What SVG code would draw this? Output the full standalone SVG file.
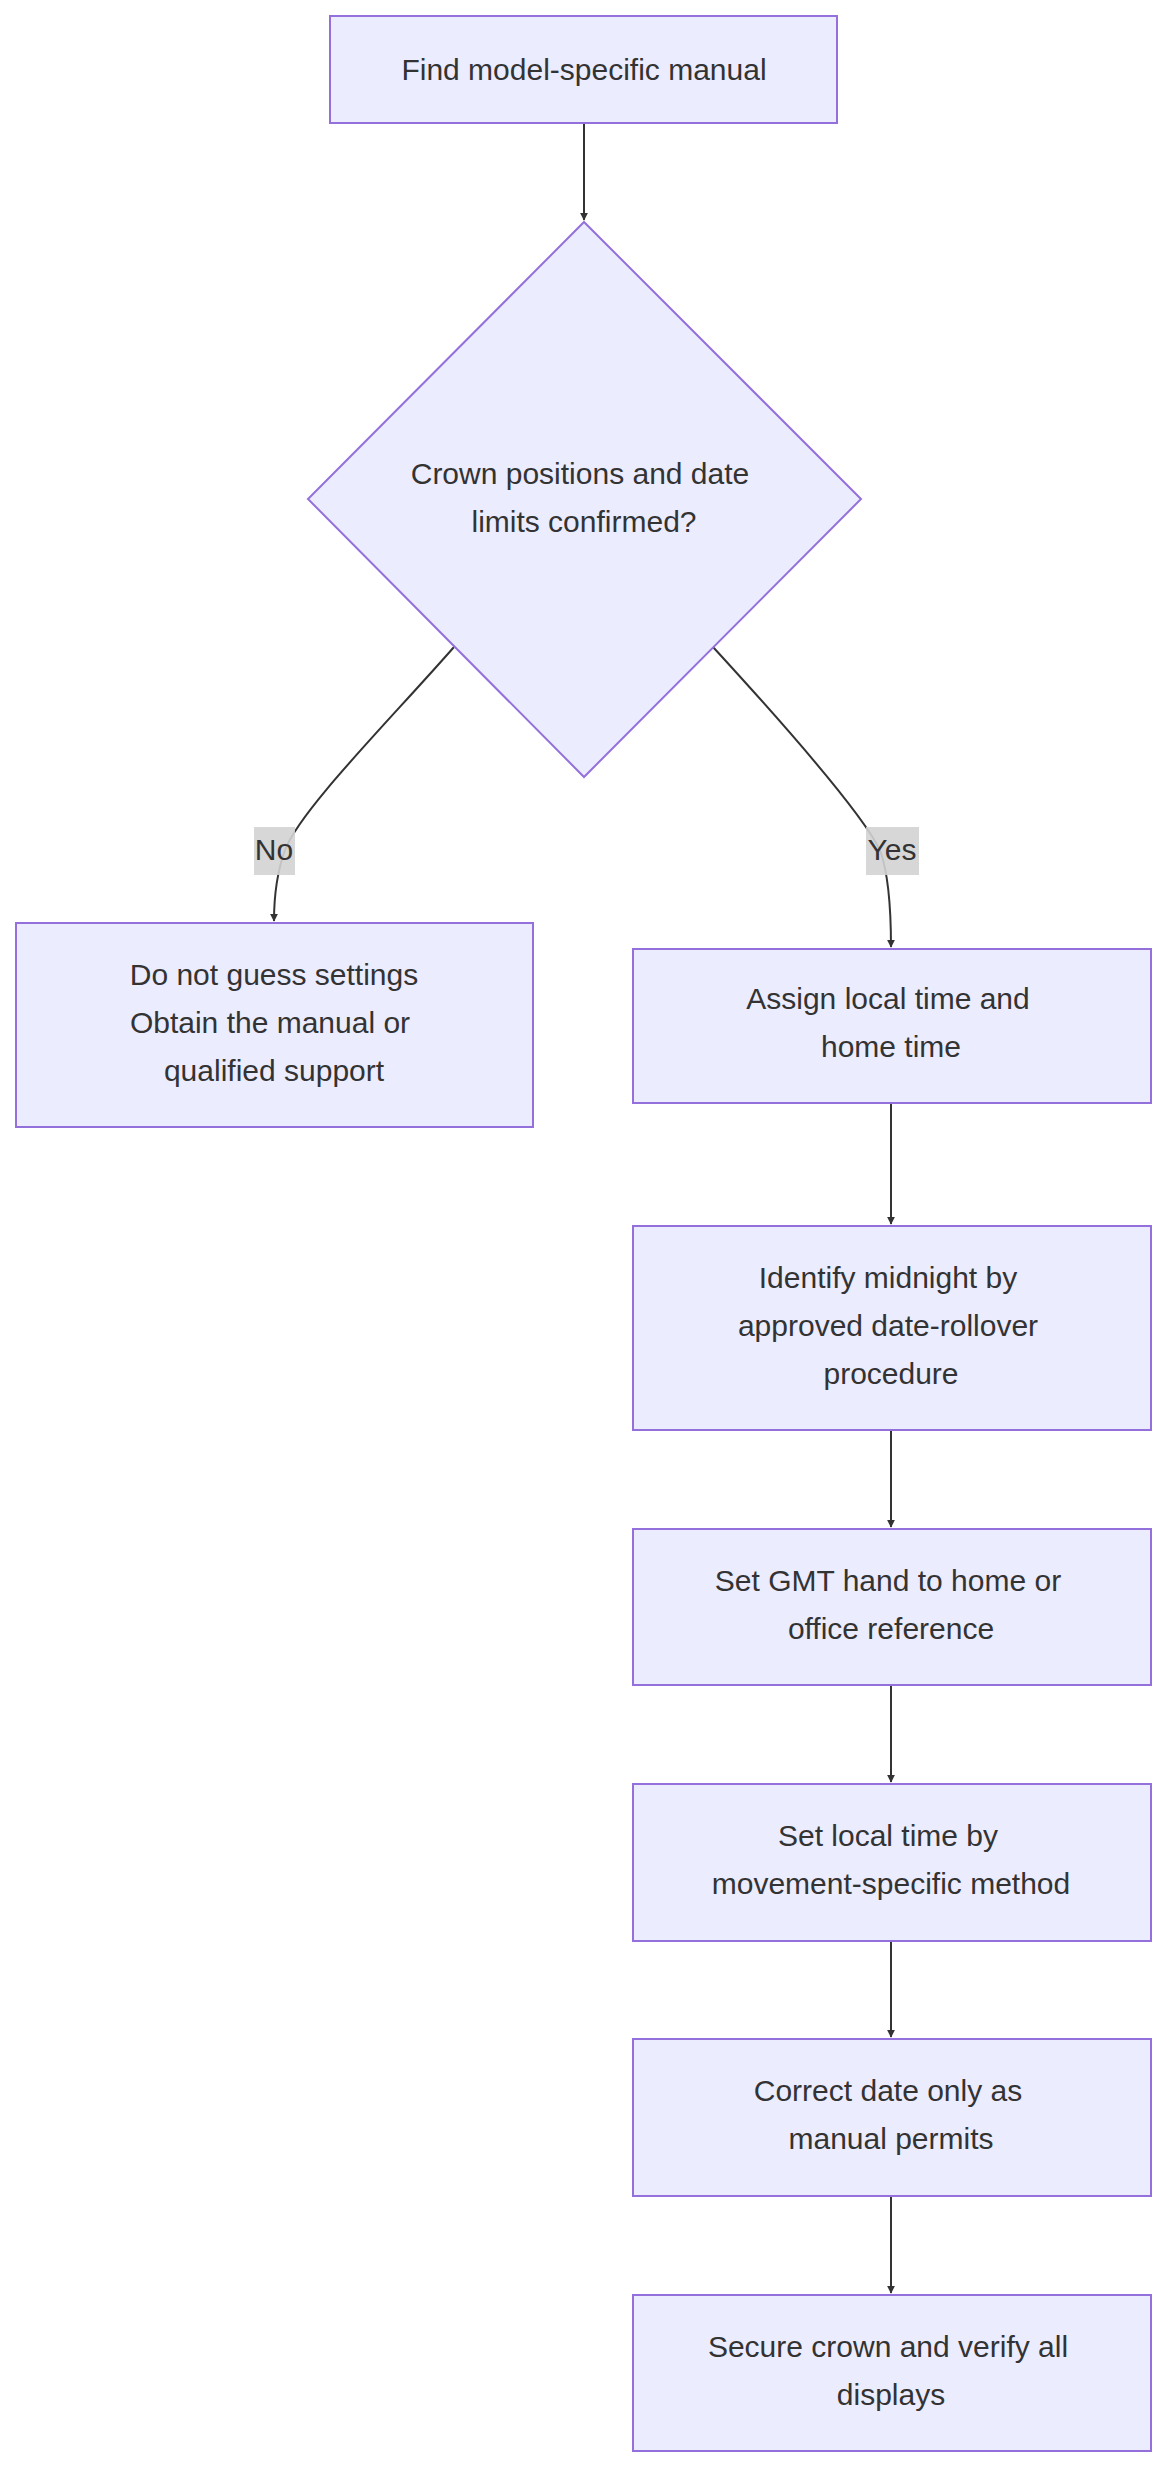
<svg xmlns="http://www.w3.org/2000/svg" width="1172" height="2476" viewBox="0 0 1172 2476">
<style>
.n{fill:#ECECFF;stroke:#9370DB;stroke-width:2}
.t{font-family:"Liberation Sans",Arial,sans-serif;font-size:30px;fill:#333;text-anchor:middle;dominant-baseline:central}
.e{fill:none;stroke:#333;stroke-width:2}
.lb{fill:#D3D3D3;opacity:0.9}
</style>
<defs><marker id="a" viewBox="0 0 10 10" refX="9" refY="5" markerWidth="8" markerHeight="8" markerUnits="userSpaceOnUse" orient="auto"><path d="M0,0L10,5L0,10z" fill="#333"/></marker></defs>
<rect width="1172" height="2476" fill="#fff"/>
<g id="edges">
<path class="e" d="M584,123V220" marker-end="url(#a)" style="marker-end:url(#a)"/>
<path class="e" d="M454,647C390,720 300,810 285,850C276,875 274,900 274,921" marker-end="url(#a)"/>
<path class="e" d="M713,647C780,720 860,810 880,850C889,875 891,910 891,947" marker-end="url(#a)"/>
<path class="e" d="M891,1103V1224" marker-end="url(#a)"/>
<path class="e" d="M891,1430V1527" marker-end="url(#a)"/>
<path class="e" d="M891,1685V1782" marker-end="url(#a)"/>
<path class="e" d="M891,1941V2037" marker-end="url(#a)"/>
<path class="e" d="M891,2196V2293" marker-end="url(#a)"/>
<rect class="lb" x="254" y="827" width="41" height="48"/><text class="t" x="274" y="849">No</text>
<rect class="lb" x="866" y="827" width="53" height="48"/><text class="t" x="892" y="849">Yes</text>
</g>
<g id="n0"><rect class="n" x="330" y="16" width="507" height="107"/><text class="t" x="584" y="69">Find model-specific manual</text></g>
<g id="n1"><path class="n" d="M584,222L861,499L584,777L308,499Z"/><text class="t" x="580" y="473">Crown positions and date</text><text class="t" x="584" y="521">limits confirmed?</text></g>
<g id="n2"><rect class="n" x="16" y="923" width="517" height="204"/><text class="t" x="274" y="974">Do not guess settings</text><text class="t" x="270" y="1022">Obtain the manual or</text><text class="t" x="274" y="1070">qualified support</text></g>
<g id="n3"><rect class="n" x="633" y="949" width="518" height="154"/><text class="t" x="888" y="998">Assign local time and</text><text class="t" x="891" y="1046">home time</text></g>
<g id="n4"><rect class="n" x="633" y="1226" width="518" height="204"/><text class="t" x="888" y="1277">Identify midnight by</text><text class="t" x="888" y="1325">approved date-rollover</text><text class="t" x="891" y="1373">procedure</text></g>
<g id="n5"><rect class="n" x="633" y="1529" width="518" height="156"/><text class="t" x="888" y="1580">Set GMT hand to home or</text><text class="t" x="891" y="1628">office reference</text></g>
<g id="n6"><rect class="n" x="633" y="1784" width="518" height="157"/><text class="t" x="888" y="1835">Set local time by</text><text class="t" x="891" y="1883">movement-specific method</text></g>
<g id="n7"><rect class="n" x="633" y="2039" width="518" height="157"/><text class="t" x="888" y="2090">Correct date only as</text><text class="t" x="891" y="2138">manual permits</text></g>
<g id="n8"><rect class="n" x="633" y="2295" width="518" height="156"/><text class="t" x="888" y="2346">Secure crown and verify all</text><text class="t" x="891" y="2394">displays</text></g>
</svg>
